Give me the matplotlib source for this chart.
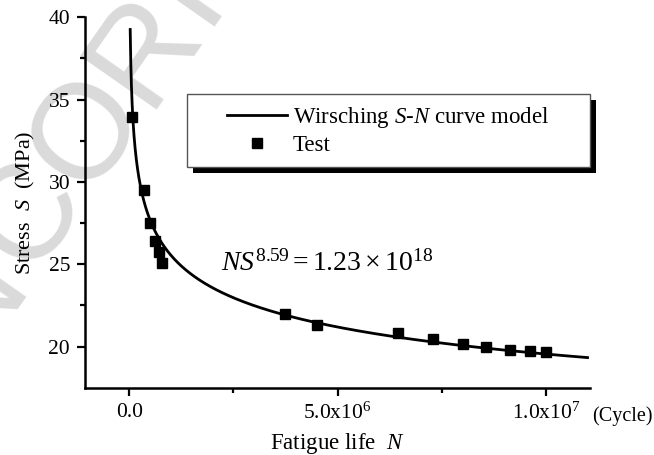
import numpy as np
import matplotlib
matplotlib.use("Agg")
import matplotlib.pyplot as plt
from matplotlib.ticker import FixedLocator, FixedFormatter
from matplotlib.patches import Rectangle
from matplotlib.lines import Line2D

plt.rcParams['font.family'] = ['Liberation Serif', 'DejaVu Serif']
plt.rcParams['mathtext.fontset'] = 'custom'
plt.rcParams['mathtext.rm'] = 'Liberation Serif'
plt.rcParams['mathtext.it'] = 'Liberation Serif:italic'
plt.rcParams['mathtext.bf'] = 'Liberation Serif:bold'

# ---- data ----
test_N = [0.08e6, 0.36e6, 0.51e6, 0.63e6, 0.71e6, 0.79e6, 3.74e6, 4.51e6,
          6.46e6, 7.28e6, 8.01e6, 8.57e6, 9.13e6, 9.61e6, 10.01e6]
test_S = [33.97, 29.51, 27.53, 26.44, 25.73, 25.06, 21.98, 21.32,
          20.85, 20.45, 20.16, 19.98, 19.80, 19.74, 19.64]
model_m = 8.59
model_C = 1.23e18
curve_N_range = [2.5e4, 1.1e7]

x_ticks = [0, 5e6, 1e7]
x_tick_labels = ["0.0", r"5.0x$10^{6}$", r"1.0x$10^{7}$"]
x_minor = [2.5e6, 7.5e6]
y_ticks = [20, 25, 30, 35, 40]
y_minor = [22.5, 27.5, 32.5, 37.5]

watermark_letters = ["N", "C", "O", "R", "R"]
watermark_px = [(-28, 298), (30, 215), (88, 132), (146, 49), (204, -34)]

W, H = 654, 455
fig = plt.figure(figsize=(W / 100, H / 100), dpi=100)
ax = fig.add_axes([85.4 / W, 1 - 387.7 / H, (589.6 - 85.4) / W, (387.7 - 17.3) / H])
ax.patch.set_visible(False)

# watermark
for ch, (px, py) in zip(watermark_letters, watermark_px):
    fig.text(px / W, 1 - py / H, ch, fontsize=97, family='Liberation Sans',
             color='#dadada', rotation=55, ha='center', va='center', zorder=-5)

curveN = np.linspace(curve_N_range[0], curve_N_range[1], 3000)
curveS = (model_C / curveN) ** (1.0 / model_m)
ax.plot(curveN, curveS, color='black', lw=2.0, zorder=3)
ax.plot(test_N, test_S, 's', color='black', ms=6.5, zorder=4)

ax.set_xlim(-1.05e6, 1.105e7)
ax.set_ylim(17.5, 40)

ax.xaxis.set_major_locator(FixedLocator(x_ticks))
ax.xaxis.set_major_formatter(FixedFormatter(x_tick_labels))
ax.xaxis.set_minor_locator(FixedLocator(x_minor))
ax.yaxis.set_major_locator(FixedLocator(y_ticks))
ax.yaxis.set_minor_locator(FixedLocator(y_minor))

for s in ['top', 'right']:
    ax.spines[s].set_visible(False)
for s in ['left', 'bottom']:
    ax.spines[s].set_linewidth(1.8)
ax.tick_params(which='major', direction='out', length=6, width=1.6, labelsize=15.5, pad=5)
ax.tick_params(which='minor', direction='out', length=3.5, width=1.6)

ax.set_xlabel(r"Fatigue life  $N$", fontsize=16.5, labelpad=5)
ax.set_ylabel(r"Stress  $S$  (MPa)", fontsize=16, labelpad=8)

fig.text(592 / W, 1 - 421 / H, "(Cycle)", fontsize=14.5, va='baseline', ha='left')

ax.text(0.269, 0.316, r"$NS^{8.59}=1.23\times10^{18}$", transform=ax.transAxes,
        fontsize=20, va='baseline', ha='left')

# legend frame + shadow drawn as boxes in axes fraction
lx0, ly0, lw_, lh_ = 0.2015, 0.597, 0.7985, 0.196
sdx, sdy = 6.5 / 504.2, 6.5 / 370.4
ax.add_patch(Rectangle((lx0 + sdx, ly0 - sdy), lw_, lh_, transform=ax.transAxes,
                       facecolor='black', edgecolor='none', zorder=5.5, clip_on=False))
ax.add_patch(Rectangle((lx0, ly0), lw_, lh_, transform=ax.transAxes,
                       facecolor='white', edgecolor='#555555', lw=1.0, zorder=5.6,
                       clip_on=False))

handles = [Line2D([], [], color='black', lw=2.0),
           Line2D([], [], color='black', marker='s', ls='none', ms=6.5)]
labels = [r"Wirsching $S$-$N$ curve model", "Test"]
leg = ax.legend(handles, labels, loc='center',
                bbox_to_anchor=(lx0, ly0, lw_, lh_),
                borderaxespad=0, fontsize=16.5, frameon=False,
                handlelength=2.6, handletextpad=0.25, labelspacing=0.2,
                borderpad=0.0)
leg.set_zorder(6)

fig.savefig("out.png", dpi=100)
